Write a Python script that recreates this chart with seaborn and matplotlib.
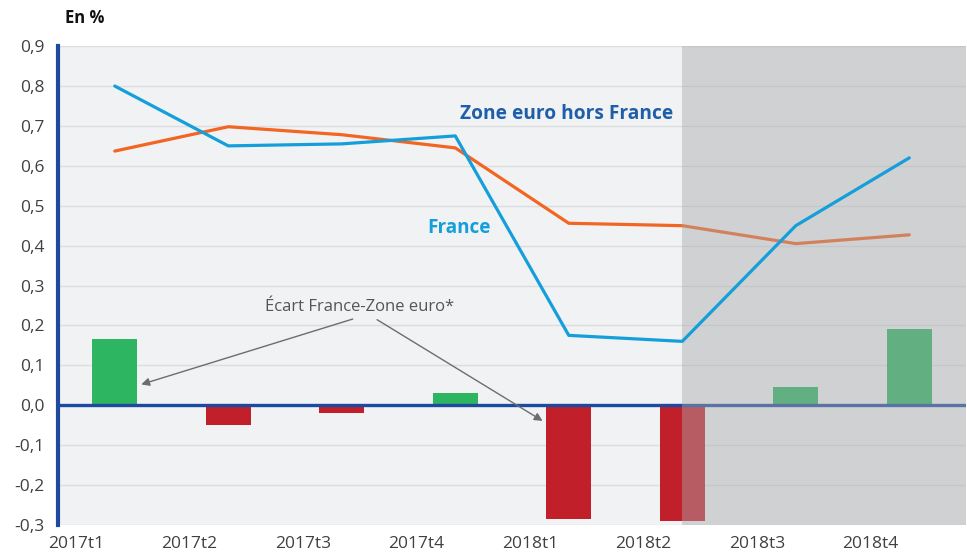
import numpy as np
import pandas as pd
import matplotlib.pyplot as plt
import seaborn as sns

# Data
quarters = ['2017t1', '2017t2', '2017t3', '2017t4', '2018t1', '2018t2', '2018t3', '2018t4']
france = [0.80, 0.65, 0.655, 0.675, 0.175, 0.16, 0.45, 0.62]
zone_euro = [0.637, 0.698, 0.678, 0.645, 0.456, 0.45, 0.405, 0.427]
ecart = [0.165, -0.05, -0.02, 0.03, -0.285, -0.29, 0.045, 0.19]
y_ticks = [-0.3, -0.2, -0.1, 0.0, 0.1, 0.2, 0.3, 0.4, 0.5, 0.6, 0.7, 0.8, 0.9]

sns.set_style('white')
plt.rcParams['font.family'] = ['Open Sans', 'DejaVu Sans']

df = pd.DataFrame({'trimestre': quarters, 'france': france,
                   'zone': zone_euro, 'ecart': ecart})
df['signe'] = np.where(df['ecart'] >= 0, 'pos', 'neg')
df['pos'] = np.arange(len(df))

fig = plt.figure(figsize=(9.67, 5.56), dpi=100)
ax = fig.add_axes([0.060, 0.056, 0.939, 0.861])
ax.set_facecolor('#f1f2f4')

# gridlines
for v in y_ticks:
    ax.axhline(v, color='#dcdddf', lw=1, zorder=0.5)

# bars of the gap
sns.barplot(data=df, x='pos', y='ecart', hue='signe', order=list(range(8)),
            palette={'pos': '#2db562', 'neg': '#c1202a'}, width=0.4,
            dodge=False, legend=False, native_scale=True, ax=ax, zorder=2,
            linewidth=0, saturation=1)

# Zone euro hors France (orange)
sns.lineplot(data=df, x='pos', y='zone', color='#f26522', lw=2.3, ax=ax,
             zorder=2.5)
# zero line
ax.axhline(0, color='#1d4a9e', lw=2.4, zorder=2.6)

# shaded forecast area
ax.axvspan(5, 7.5, color='#a8a9aa', alpha=0.44, lw=0, zorder=3)

# France (blue)
sns.lineplot(data=df, x='pos', y='france', color='#149fda', lw=2.3, ax=ax,
             zorder=4)

ax.set_xlim(-0.5, 7.5)
ax.set_ylim(-0.3, 0.9)
ax.set_yticks(y_ticks)
ax.set_yticklabels([f'{v:.1f}'.replace('.', ',') for v in y_ticks])
ax.set_xticks(np.arange(8) - 0.34)
ax.set_xticklabels(quarters)
ax.set_xticks(np.arange(7) + 0.5, minor=True)
ax.tick_params(axis='x', which='major', length=0, pad=8, labelsize=12.5,
               labelcolor='#404040')
ax.tick_params(axis='x', which='minor', length=5, color='#808080', width=1)
ax.tick_params(axis='y', length=4, color='#808080', width=1, pad=6,
               labelsize=12.5, labelcolor='#404040')
ax.set_xlabel('')
ax.set_ylabel('')

for s in ['top', 'right', 'bottom']:
    ax.spines[s].set_visible(False)
ax.spines['left'].set_color('#1d4a9e')
ax.spines['left'].set_linewidth(3)
ax.spines['left'].set_zorder(5)

ax.text(3.98, 0.729, 'Zone euro hors France', color='#1f5ea8',
        fontsize=13.8, fontweight='bold', ha='center', va='center', zorder=6)
ax.text(3.03, 0.444, 'France', color='#149fda', fontsize=13.6,
        fontweight='bold', ha='center', va='center', zorder=6)

ax.text(2.16, 0.245, 'Écart France-Zone euro*', color='#555555',
        fontsize=12, ha='center', va='center', zorder=6)
arrow = dict(arrowstyle='-|>', color='#6d6d6d', lw=1, mutation_scale=12)
ax.annotate('', xy=(0.21, 0.05), xytext=(2.12, 0.218), arrowprops=arrow,
            zorder=6)
ax.annotate('', xy=(3.79, -0.043), xytext=(2.29, 0.218), arrowprops=arrow,
            zorder=6)

fig.text(0.067, 0.967, 'En %', fontsize=12, fontweight='bold',
         color='#111111', ha='left', va='center')

fig.savefig('out.png', dpi=100)
